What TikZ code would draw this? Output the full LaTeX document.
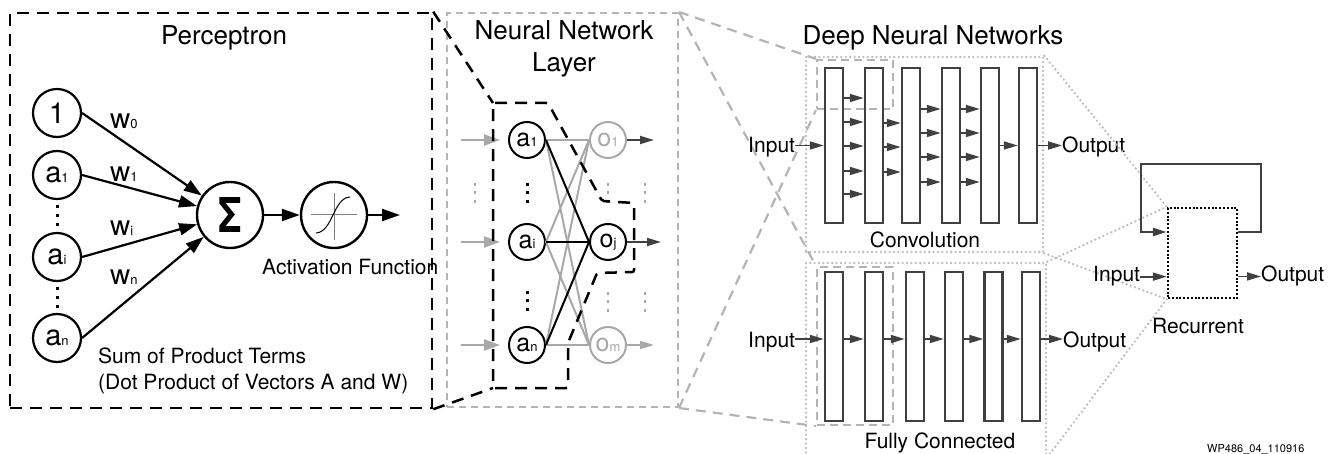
\documentclass[tikz,border=0pt]{standalone}
\usepackage{fontspec}
\setmainfont{TeX Gyre Heros}
\usetikzlibrary{arrows.meta, positioning}

\definecolor{darkline}{HTML}{404040}
\definecolor{linegray}{HTML}{B4B4B4}
\definecolor{dotgray}{HTML}{BDBDBD}
\definecolor{nodegray}{HTML}{A8A8A8}

\newcommand{\nsub}[1]{{\fontsize{13}{13}\selectfont #1}}

\tikzstyle{neuron} = [circle, draw=black, line width=2.2pt, minimum size=48pt, inner sep=0pt, font=\fontsize{29}{29}\selectfont]
\tikzstyle{bignode} = [circle, draw=black, line width=2.4pt, minimum size=66pt, inner sep=0pt]
\tikzstyle{unit} = [circle, draw=black, line width=2pt, minimum size=36pt, inner sep=0pt, font=\fontsize{25}{25}\selectfont]
\tikzstyle{unitgray} = [unit, draw=nodegray, text=nodegray]
\tikzstyle{layer} = [rectangle, draw=darkline, line width=2.5pt, minimum width=18pt, inner sep=0pt]
\tikzstyle{pframe} = [rectangle, draw=black, line width=2.5pt, dash pattern=on 12pt off 8pt, inner sep=0pt]
\tikzstyle{grayframe} = [rectangle, draw=linegray, line width=2pt, dash pattern=on 7pt off 5pt, inner sep=0pt]
\tikzstyle{selframe} = [rectangle, draw=linegray, line width=2.2pt, dash pattern=on 8pt off 5pt, inner sep=0pt]
\tikzstyle{dotframe} = [rectangle, draw=dotgray, line width=2.6pt, line cap=round, dash pattern=on 0pt off 4.4pt, inner sep=0pt]
\tikzstyle{rnnframe} = [rectangle, draw=black, line width=2.4pt, dash pattern=on 2pt off 1.8pt, inner sep=0pt]
\tikzstyle{heading} = [inner sep=0pt, anchor=base, font=\fontsize{26}{26}\selectfont]
\tikzstyle{txt} = [inner sep=0pt, font=\fontsize{21}{21}\selectfont]
\tikzstyle{weight} = [inner sep=0pt, anchor=base west, font=\fontsize{28}{28}\selectfont]
\tikzstyle{arrow} = [line width=2.2pt, -{Triangle[length=18pt,width=12pt]}]
\tikzstyle{inarrow} = [nodegray, line width=2.2pt, -{Triangle[length=16pt,width=11pt]}]
\tikzstyle{outarrow} = [darkline, line width=1.8pt, -{Triangle[length=14pt,width=8pt]}]
\tikzstyle{wire} = [line width=2pt]
\tikzstyle{vdots} = [line width=3pt, dash pattern=on 3pt off 6pt]
\tikzstyle{pdash} = [line width=2.5pt, dash pattern=on 12pt off 8pt]
\tikzstyle{conedash} = [linegray, line width=2.2pt, dash pattern=on 10pt off 7pt]
\tikzstyle{conedot} = [dotgray, line width=2.6pt, line cap=round, dash pattern=on 0pt off 4.4pt]

\begin{document}
\begin{tikzpicture}[x=1pt, y=-1pt]
\useasboundingbox (0,0) rectangle (1341,454);

%% perceptron
\node (pbox) [pframe, minimum width=422pt, minimum height=395pt] at (221,210.5) {};
\node [heading] at (224,45) {Perceptron};
\node (one) [neuron] at (57,113) {1};
\node (a1) [neuron, below of=one, node distance=62pt] {a\nsub{1}};
\node (ai) [neuron, below of=a1, node distance=82pt] {a\nsub{i}};
\node (an) [neuron, below of=ai, node distance=81pt] {a\nsub{n}};
\draw [vdots] (57,205) -- (57,227);
\draw [vdots] (57,287) -- (57,309);
\node (sum) [bignode] at (230,215) {\scalebox{0.8}[1]{\fontsize{48}{48}\selectfont\bfseries Σ}};
\node (act) [bignode, right of=sum, node distance=104pt] {};
\draw [gray, line width=1pt] (act) ++(-23,0) -- ++(46,0);
\draw [gray, line width=1pt] (act) ++(0,-22) -- ++(0,47);
\draw [line width=1pt] (316,233) .. controls (333,232) and (333,198) .. (350,197);
\node [weight] at (110,129) {w\nsub{0}};
\node [weight] at (110,182) {w\nsub{1}};
\node [weight] at (110,236) {w\nsub{i}};
\node [weight] at (110,284) {w\nsub{n}};
\draw [arrow] (one.east) -- (sum);
\draw [arrow] (a1.east) -- (sum);
\draw [arrow] (ai.east) -- (sum);
\draw [arrow] (an.east) -- (sum);
\draw [arrow] (sum) -- (act);
\coordinate (pout) at (400,215);
\draw [arrow] (act) -- (pout);
\node [txt, anchor=base west] at (262,275) {Activation Function};
\node [txt, anchor=base west] at (98,363) {Sum of Product Terms};
\node [txt, anchor=base west] at (98,389) {(Dot Product of Vectors A and W)};

%% one layer
\node (nnbox) [grayframe, minimum width=231pt, minimum height=394pt] at (562.5,210) {};
\node [heading] at (564,40) {Neural Network};
\node [heading] at (564,72) {Layer};
\node (la1) [unit] at (527,140) {a\nsub{1}};
\node (lai) [unit, below of=la1, node distance=102pt] {a\nsub{i}};
\node (lan) [unit, below of=lai, node distance=103pt] {a\nsub{n}};
\node (lo1) [unitgray, right of=la1, node distance=81pt] {o\nsub{1}};
\node (loj) [unit, right of=lai, node distance=81pt] {o\nsub{j}};
\node (lom) [unitgray, right of=lan, node distance=81pt] {o\nsub{m}};
\draw [wire, nodegray] (la1.east) -- (lo1.west);
\draw [wire, nodegray] (la1.east) -- (lom.west);
\draw [wire, nodegray] (lai.east) -- (lo1.west);
\draw [wire, nodegray] (lai.east) -- (lom.west);
\draw [wire, nodegray] (lan.east) -- (lo1.west);
\draw [wire, nodegray] (lan.east) -- (lom.west);
\draw [wire] (la1.east) -- (loj.west);
\draw [wire] (lai.east) -- (loj.west);
\draw [wire] (lan.east) -- (loj.west);
\draw [inarrow] ([xshift=-47pt]la1.west) -- ([xshift=-8pt]la1.west);
\draw [inarrow] ([xshift=-47pt]lai.west) -- ([xshift=-8pt]lai.west);
\draw [inarrow] ([xshift=-47pt]lan.west) -- ([xshift=-8pt]lan.west);
\draw [outarrow] (lo1.east) -- ++(27,0);
\draw [outarrow] (loj.east) -- ++(34,0);
\draw [outarrow, nodegray] (lom.east) -- ++(27,0);
\draw [vdots, dash pattern=on 3pt off 5.5pt] (527,183) -- (527,204);
\draw [vdots, dash pattern=on 3pt off 5.5pt] (527,291) -- (527,312);
\draw [vdots, nodegray, line width=2.5pt, dash pattern=on 3pt off 5.5pt] (475,183) -- (475,204);
\draw [vdots, nodegray, line width=2.5pt, dash pattern=on 3pt off 5.5pt] (608,183) -- (608,204);
\draw [vdots, nodegray, line width=2.5pt, dash pattern=on 3pt off 5.5pt] (645,183) -- (645,204);
\draw [vdots, nodegray, line width=2.5pt, dash pattern=on 3pt off 5.5pt] (608,292) -- (608,313);
\draw [vdots, nodegray, line width=2.5pt, dash pattern=on 3pt off 5.5pt] (645,292) -- (645,313);

% the neuron picked out of the layer
\coordinate (sel1) at (493,103);
\coordinate (sel2) at (493,388);
\draw [pdash, rounded corners=2pt] (sel1) -- (548,103) -- (602,201) -- (634,203) -- (634,272)
  -- (597,273) -- (568,343) -- (568,388) -- (sel2) -- cycle;
\draw [pdash] (pbox.north east) -- (sel1);
\draw [pdash] (pbox.south east) -- (sel2);

%% deep networks
\node [heading] at (933,45) {Deep Neural Networks};
\node (conv) [dotframe, minimum width=237pt, minimum height=195pt] at (924.5,154.5) {};
\node (fc) [dotframe, minimum width=240pt, minimum height=193pt] at (926,359.5) {};
\node (convsel) [selframe, minimum width=76pt, minimum height=49pt] at (855,84.5) {};
\node (fcsel) [selframe, minimum width=76pt, minimum height=158pt] at (855,346) {};
\draw [conedash] (nnbox.north east) -- (convsel.north west);
\draw [conedash] (nnbox.south east) -- (convsel.south west);
\draw [conedash] (nnbox.north east) -- (fcsel.north west);
\draw [conedash] (nnbox.south east) -- (fcsel.south west);

% convolution
\node (c1) [layer, minimum height=155pt] at (834,145.5) {};
\node (c2) [layer, minimum height=155pt, right of=c1, node distance=40pt] {};
\node (c3) [layer, minimum height=155pt, right of=c2, node distance=37pt] {};
\node (c4) [layer, minimum height=155pt, right of=c3, node distance=40pt] {};
\node (c5) [layer, minimum height=155pt, right of=c4, node distance=39pt] {};
\node (c6) [layer, minimum height=155pt, right of=c5, node distance=38pt] {};
\node (cin) [txt, anchor=base west] at (748,153) {Input};
\node (cout) [txt, anchor=base west] at (1062,153) {Output};
\node [txt, anchor=base] at (925,248) {Convolution};
\draw [outarrow] (cin.east |- c1.west) -- (c1.west);
\draw [outarrow] (c6.east) -- (cout.west |- c6.east);
\draw [outarrow] (c1.east |- 0,98) -- (c2.west |- 0,98);
\draw [outarrow] (c1.east |- 0,122) -- (c2.west |- 0,122);
\draw [outarrow] (c1.east |- 0,146) -- (c2.west |- 0,146);
\draw [outarrow] (c1.east |- 0,171) -- (c2.west |- 0,171);
\draw [outarrow] (c1.east |- 0,194) -- (c2.west |- 0,194);
\draw [outarrow] (c2.east |- 0,123) -- (c3.west |- 0,123);
\draw [outarrow] (c2.east |- 0,147) -- (c3.west |- 0,147);
\draw [outarrow] (c2.east |- 0,172) -- (c3.west |- 0,172);
\draw [outarrow] (c3.east |- 0,109) -- (c4.west |- 0,109);
\draw [outarrow] (c3.east |- 0,133) -- (c4.west |- 0,133);
\draw [outarrow] (c3.east |- 0,157) -- (c4.west |- 0,157);
\draw [outarrow] (c3.east |- 0,182) -- (c4.west |- 0,182);
\draw [outarrow] (c4.east |- 0,109) -- (c5.west |- 0,109);
\draw [outarrow] (c4.east |- 0,133) -- (c5.west |- 0,133);
\draw [outarrow] (c4.east |- 0,157) -- (c5.west |- 0,157);
\draw [outarrow] (c4.east |- 0,182) -- (c5.west |- 0,182);
\draw [outarrow] (c5.east) -- (c6.west);

% fully connected
\node (f1) [layer, minimum height=149pt] at (834,346.5) {};
\node (f2) [layer, minimum height=149pt, right of=f1, node distance=40pt] {};
\node (f3) [layer, minimum height=149pt, right of=f2, node distance=41pt] {};
\node (f4) [layer, minimum height=149pt, right of=f3, node distance=39pt] {};
\node (f5) [layer, minimum height=149pt, right of=f4, node distance=39.5pt] {};
\node (f6) [layer, minimum height=149pt, right of=f5, node distance=37.5pt] {};
\node (fin) [txt, anchor=base west] at (748,347) {Input};
\node (fout) [txt, anchor=base west] at (1063,347) {Output};
\node [txt, anchor=base] at (940,448) {Fully Connected};
\draw [outarrow] (fin.east |- 0,339) -- (f1.west |- 0,339);
\draw [outarrow] (f1.east |- 0,339) -- (f2.west |- 0,339);
\draw [outarrow] (f2.east |- 0,339) -- (f3.west |- 0,339);
\draw [outarrow] (f3.east |- 0,339) -- (f4.west |- 0,339);
\draw [outarrow] (f4.east |- 0,339) -- (f5.west |- 0,339);
\draw [outarrow] (f5.east |- 0,339) -- (f6.west |- 0,339);
\draw [outarrow] (f6.east |- 0,339) -- (fout.west |- 0,339);

% recurrent
\node (rnn) [rnnframe, minimum width=69pt, minimum height=90pt] at (1202.5,253) {};
\draw [conedot] (conv.north east) -- (rnn.north west);
\draw [conedot] (conv.south east) -- (rnn.south west);
\draw [conedot] (fc.north east) -- (rnn.north west);
\draw [conedot] (fc.south east) -- (rnn.south west);
\draw [darkline, line width=2.5pt, -{Triangle[length=14pt,width=8pt]}]
  ([yshift=21pt]rnn.east) -- ++(23,0) |- ++(-120,-68) |- ([yshift=21pt]rnn.west);
\node (rin) [txt, anchor=base west] at (1093,282) {Input};
\node (rout) [txt, anchor=base west] at (1261,282) {Output};
\node [txt, anchor=base] at (1198,333) {Recurrent};
\draw [outarrow] (rin.east) -- (rnn.west |- rin.east);
\draw [outarrow] (rnn.east |- rout.west) -- (rout.west);

\node [inner sep=0pt, anchor=base west, font=\fontsize{11}{11}\selectfont] at (1207,452) {WP486\_04\_110916};
\end{tikzpicture}
\end{document}
